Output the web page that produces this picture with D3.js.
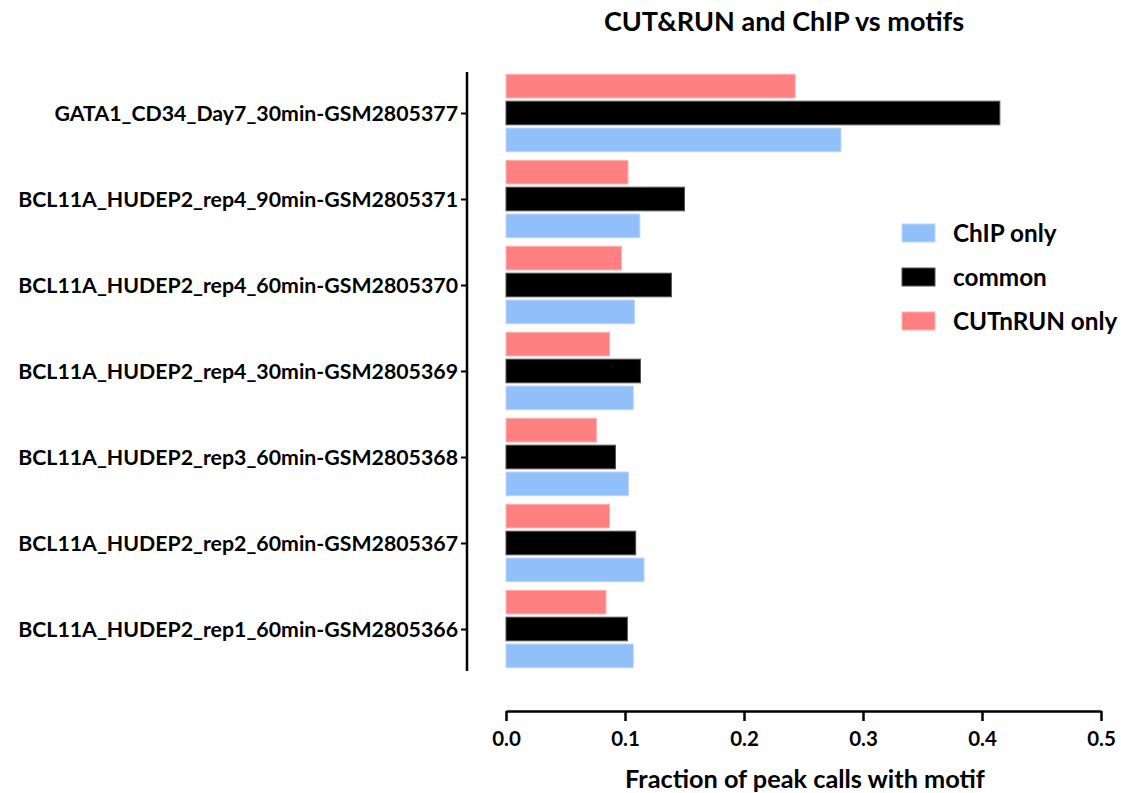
<!DOCTYPE html>
<html><head><meta charset="utf-8">
<script src="https://cdn.jsdelivr.net/npm/d3@7"></script>
<style>body{margin:0;background:#fff;} text{font-family:Lato, "Open Sans", sans-serif;font-weight:bold;fill:#000;}</style>
</head><body>
<svg id="chart" width="1121" height="793"></svg>
<script>
const categories = [
  "GATA1_CD34_Day7_30min-GSM2805377",
  "BCL11A_HUDEP2_rep4_90min-GSM2805371",
  "BCL11A_HUDEP2_rep4_60min-GSM2805370",
  "BCL11A_HUDEP2_rep4_30min-GSM2805369",
  "BCL11A_HUDEP2_rep3_60min-GSM2805368",
  "BCL11A_HUDEP2_rep2_60min-GSM2805367",
  "BCL11A_HUDEP2_rep1_60min-GSM2805366"
];
const cutnrunOnly = [0.243, 0.1025, 0.097, 0.087, 0.076, 0.087, 0.084];
const common      = [0.415, 0.150, 0.139, 0.113, 0.092, 0.109, 0.102];
const chipOnly    = [0.2815, 0.1125, 0.108, 0.107, 0.103, 0.116, 0.107];
const xTicks = [0.0, 0.1, 0.2, 0.3, 0.4, 0.5];
const seriesNames = ["CUTnRUN only", "common", "ChIP only"];
const legendOrder = ["ChIP only", "common", "CUTnRUN only"];
const seriesData = {"CUTnRUN only": cutnrunOnly, "common": common, "ChIP only": chipOnly};
const fills = {"CUTnRUN only": "#ff8080", "common": "#000000", "ChIP only": "#91bffa"};
const strokes = {"CUTnRUN only": "#ffb0b0", "common": "#555555", "ChIP only": "#bcd8fb"};

const svg = d3.select("#chart");
const x = d3.scaleLinear().domain([0, 0.5]).range([506, 1101]);
const y0 = d3.scaleBand().domain(categories).range([70, 672]).paddingInner(0.1).paddingOuter(0.05);
const y1 = d3.scaleBand().domain(seriesNames).range([0, y0.bandwidth()]).paddingInner(0.12);

// bars
const g = svg.append("g");
categories.forEach((c, i) => {
  seriesNames.forEach(s => {
    g.append("rect")
      .attr("x", x(0))
      .attr("y", y0(c) + y1(s))
      .attr("width", x(seriesData[s][i]) - x(0))
      .attr("height", y1.bandwidth())
      .attr("fill", fills[s])
      .attr("stroke", strokes[s])
      .attr("stroke-width", 1);
  });
});

// y axis
const yAxisScale = d3.scalePoint().domain(categories)
  .range([y0(categories[0]) + y1("common") + y1.bandwidth()/2,
          y0(categories[categories.length-1]) + y1("common") + y1.bandwidth()/2]);
const yAxis = svg.append("g").attr("transform", "translate(467,0)")
  .call(d3.axisLeft(yAxisScale).tickSize(6).tickPadding(3));
yAxis.select(".domain").remove();
yAxis.append("line").attr("x1", 0).attr("x2", 0).attr("y1", 72).attr("y2", 671).attr("stroke", "#000").attr("stroke-width", 2.5);
yAxis.selectAll(".tick line").attr("stroke", "#000").attr("stroke-width", 2);
yAxis.selectAll(".tick text").style("font-size", "21.3px").attr("dy", "0.35em");

// x axis
const xAxis = svg.append("g").attr("transform", "translate(0,711)")
  .call(d3.axisBottom(x).tickValues(xTicks).tickFormat(d3.format(".1f")).tickSize(10).tickPadding(10).tickSizeOuter(0));
xAxis.select(".domain").attr("stroke-width", 2.5);
xAxis.selectAll(".tick line").attr("stroke-width", 2.5);
xAxis.selectAll(".tick text").style("font-size", "20.5px");

// axis title
svg.append("text").attr("x", 805).attr("y", 788).attr("text-anchor", "middle").style("font-size", "25.3px").text("Fraction of peak calls with motif");
// title
svg.append("text").attr("x", 784).attr("y", 31).attr("text-anchor", "middle").style("font-size", "27px").text("CUT&RUN and ChIP vs motifs");

// legend
const legY = d3.scalePoint().domain(legendOrder).range([233, 321]);
const leg = svg.append("g");
legendOrder.forEach(s => {
  leg.append("rect").attr("x", 902).attr("y", legY(s) - 9).attr("width", 33).attr("height", 18)
    .attr("fill", fills[s]).attr("stroke", strokes[s]).attr("stroke-width", 1);
  leg.append("text").attr("x", 953).attr("y", legY(s)).attr("dy", "0.35em").style("font-size", "24.3px").text(s);
});
</script>
</body></html>
